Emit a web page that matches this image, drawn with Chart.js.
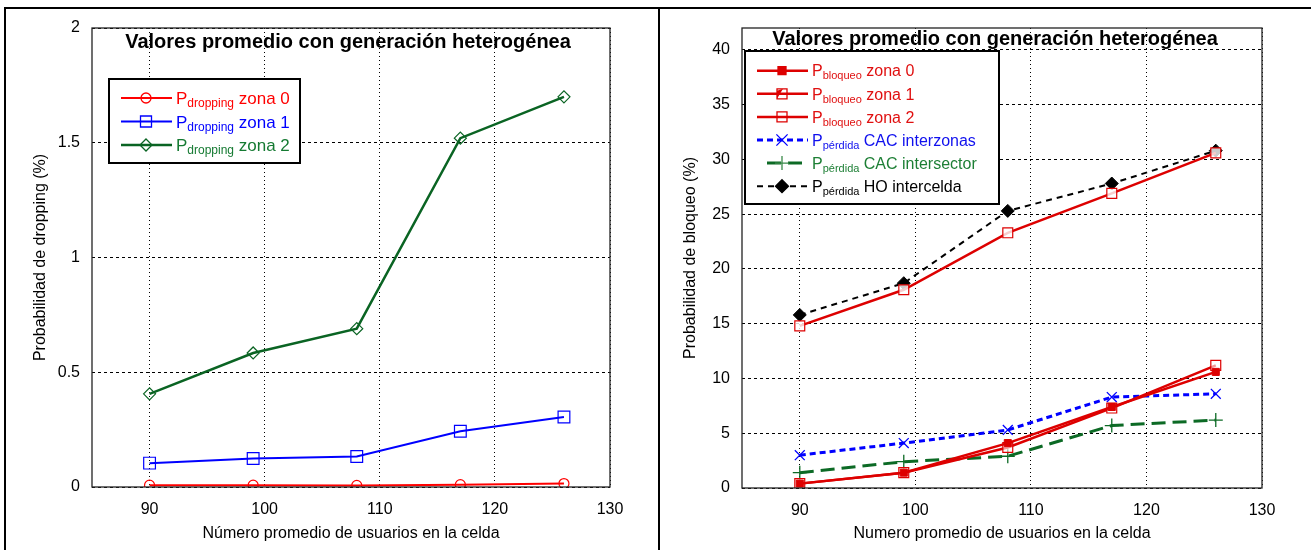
<!DOCTYPE html>
<html><head><meta charset="utf-8">
<script src="https://cdn.jsdelivr.net/npm/chart.js@4.4.0/dist/chart.umd.min.js"></script>
<style>
html,body{margin:0;padding:0;background:#fff;}
#wrap{position:relative;width:1311px;height:550px;overflow:hidden;background:#fff;}
#c1{position:absolute;left:0;top:0;}
#c2{position:absolute;left:660px;top:0;}
.fr{position:absolute;background:#000;}
</style></head><body>
<div id="wrap">
<canvas id="c1" width="660" height="550"></canvas>
<canvas id="c2" width="651" height="550"></canvas>
<div class="fr" style="left:4px;top:7px;width:1307px;height:2px"></div>
<div class="fr" style="left:4px;top:7px;width:2px;height:543px"></div>
<div class="fr" style="left:658px;top:7px;width:2px;height:543px"></div>
</div>
<script>
// ---- data ----
const usuarios = [90, 99, 108, 117, 126];
const dropZona0 = [0.008, 0.008, 0.007, 0.010, 0.015];
const dropZona1 = [0.104, 0.124, 0.133, 0.243, 0.305];
const dropZona2 = [0.406, 0.584, 0.690, 1.520, 1.700];
const bloqZona0 = [0.4, 1.4, 4.1, 7.4, 10.6];
const bloqZona1 = [0.4, 1.4, 3.7, 7.3, 11.2];
const bloqZona2 = [14.8, 18.1, 23.3, 26.9, 30.6];
const perdInterzonas = [3.0, 4.1, 5.3, 8.3, 8.6];
const perdIntersector = [1.4, 2.4, 2.9, 5.7, 6.2];
const perdHO = [15.8, 18.7, 25.3, 27.8, 30.8];
const xTicks = [90, 100, 110, 120, 130];
const yTicksDrop = [0, 0.5, 1, 1.5, 2];
const yTicksBloq = [0, 5, 10, 15, 20, 25, 30, 35, 40];
const titulo = 'Valores promedio con generación heterogénea';

const FONT = '"Liberation Sans", Arial, Helvetica, sans-serif';
const pts = arr => arr.map((v, i) => ({x: usuarios[i], y: v}));

function drawMarker(ctx, type, x, y, r, color, fill) {
  ctx.save();
  ctx.setLineDash([]);
  ctx.strokeStyle = color; ctx.fillStyle = color; ctx.lineWidth = 1.3;
  ctx.beginPath();
  if (type === 'circle') { ctx.arc(x, y, r, 0, Math.PI * 2); }
  else if (type === 'square') { ctx.rect(x - r, y - r, 2 * r, 2 * r); }
  else if (type === 'diamond') { ctx.moveTo(x, y - r); ctx.lineTo(x + r, y); ctx.lineTo(x, y + r); ctx.lineTo(x - r, y); ctx.closePath(); }
  else if (type === 'cross') { ctx.moveTo(x - r, y); ctx.lineTo(x + r, y); ctx.moveTo(x, y - r); ctx.lineTo(x, y + r); }
  else if (type === 'x') { const d = r * 0.8; ctx.moveTo(x - d, y - d); ctx.lineTo(x + d, y + d); ctx.moveTo(x + d, y - d); ctx.lineTo(x - d, y + d); }
  if (fill) ctx.fill();
  ctx.stroke();
  ctx.restore();
}

function decoPlugin(cfg) {
  return {
    id: 'deco',
    afterDraw(chart) {
      const ctx = chart.ctx, a = chart.chartArea;
      ctx.save();
      ctx.setLineDash([]);
      ctx.strokeStyle = '#222'; ctx.lineWidth = 1.3;
      ctx.strokeRect(a.left, a.top, a.right - a.left, a.bottom - a.top);
      // title
      ctx.font = 'bold 20px ' + FONT;
      ctx.fillStyle = '#000'; ctx.textAlign = 'center'; ctx.textBaseline = 'middle';
      ctx.fillText(titulo, (a.left + a.right) / 2 + cfg.titleDx, cfg.titleY);
      // legend
      const L = cfg.legend;
      ctx.fillStyle = '#fff'; ctx.fillRect(L.x, L.y, L.w, L.h);
      ctx.lineWidth = 2; ctx.strokeStyle = '#000'; ctx.strokeRect(L.x, L.y, L.w, L.h);
      L.items.forEach((it, i) => {
        const y = L.y0 + i * L.dy;
        ctx.setLineDash(it.dash || []);
        ctx.strokeStyle = it.color; ctx.lineWidth = it.width;
        ctx.beginPath(); ctx.moveTo(L.lx0 + (it.off || 0), y); ctx.lineTo(L.lx1, y); ctx.stroke();
        ctx.setLineDash([]);
        drawMarker(ctx, it.marker, L.mx, y, it.size, it.mcolor || it.color, it.fill);
        if (it.tri) {
          ctx.fillStyle = it.color; ctx.beginPath();
          ctx.moveTo(L.mx - it.size, y + it.size); ctx.lineTo(L.mx - it.size, y - it.size + 2); ctx.lineTo(L.mx + 1, y - it.size); ctx.closePath(); ctx.fill();
        }
        ctx.textAlign = 'left'; ctx.textBaseline = 'alphabetic'; ctx.fillStyle = it.text;
        let x = L.tx;
        const base = y + L.main * 0.36;
        ctx.font = L.main + 'px ' + FONT;
        ctx.fillText('P', x, base); x += ctx.measureText('P').width;
        ctx.font = L.sub + 'px ' + FONT;
        ctx.fillText(it.sub, x, base + L.subDy); x += ctx.measureText(it.sub).width;
        ctx.font = L.main + 'px ' + FONT;
        ctx.fillText(' ' + it.rest, x, base);
      });
      ctx.restore();
    }
  };
}

function scales(yMax, yTicks, yTitle, yWidth, xHeight) {
  return {
    x: {
      type: 'linear', min: 85, max: 130,
      afterBuildTicks: s => { s.ticks = xTicks.map(v => ({value: v})); },
      afterFit: s => { s.height = xHeight; },
      grid: {color: '#000', lineWidth: 1, drawTicks: false},
      border: {display: false, dash: [1, 3]},
      ticks: {color: '#000', font: {family: FONT, size: 16}, padding: 13, callback: v => String(v), maxRotation: 0},
      title: {display: true, text: yTitle[1], color: '#000', font: {family: FONT, size: 16}, padding: {top: 0, bottom: 7}}
    },
    y: {
      type: 'linear', min: 0, max: yMax,
      afterBuildTicks: s => { s.ticks = yTicks.map(v => ({value: v})); },
      afterFit: s => { s.width = yWidth; },
      grid: {color: '#000', lineWidth: 1, drawTicks: false},
      border: {display: false, dash: [3, 3]},
      ticks: {color: '#000', font: {family: FONT, size: 16}, padding: 12, callback: v => String(v)},
      title: {display: true, text: yTitle[0], color: '#000', font: {family: FONT, size: 16}, padding: {top: yTitle[2], bottom: 0}}
    }
  };
}

const RED = '#ff0000', BLUE = '#0000ff', GREEN = '#0a6423', GREENT = '#157a32';

new Chart(document.getElementById('c1'), {
  type: 'line',
  data: {datasets: [
    {data: pts(dropZona0), borderColor: RED, borderWidth: 2, pointStyle: 'circle', pointRadius: 5, pointBorderWidth: 1.2, pointBackgroundColor: 'rgba(0,0,0,0)', pointBorderColor: RED},
    {data: pts(dropZona1), borderColor: BLUE, borderWidth: 2, pointStyle: 'rect', pointRadius: 8.3, pointBorderWidth: 1.2, pointBackgroundColor: 'rgba(0,0,0,0)', pointBorderColor: BLUE},
    {data: pts(dropZona2), borderColor: GREEN, borderWidth: 2.5, pointStyle: 'rectRot', pointRadius: 6, pointBorderWidth: 1.2, pointBackgroundColor: 'rgba(0,0,0,0)', pointBorderColor: GREEN}
  ]},
  options: {
    responsive: false, animation: false,
    layout: {padding: {left: 0, right: 50, top: 28, bottom: 0}},
    plugins: {legend: {display: false}, tooltip: {enabled: false}},
    elements: {line: {tension: 0}},
    scales: scales(2, yTicksDrop, ['Probabilidad de dropping (%)', 'Número promedio de usuarios en la celda', 31], 92, 63)
  },
  plugins: [decoPlugin({titleDx: -3, titleY: 42, legend: {
    x: 109, y: 79, w: 191, h: 84, y0: 98, dy: 23.5, lx0: 121, lx1: 172, mx: 146, tx: 176, main: 17, sub: 12, subDy: 3,
    items: [
      {color: RED, text: RED, width: 2, marker: 'circle', size: 5, sub: 'dropping', rest: 'zona 0'},
      {color: BLUE, text: BLUE, width: 2, marker: 'square', size: 5.5, sub: 'dropping', rest: 'zona 1'},
      {color: GREEN, text: GREENT, width: 2.5, marker: 'diamond', size: 6, sub: 'dropping', rest: 'zona 2'}
    ]}})]
});

const RED2 = '#dd0000', REDT = '#e01010', BLUE2 = '#0000ff', BLUET = '#1010ee', GREEN2 = '#0c6a25', GREENT2 = '#1d7f35';

new Chart(document.getElementById('c2'), {
  type: 'line',
  data: {datasets: [
    {data: pts(bloqZona0), borderColor: RED2, borderWidth: 2.5, pointStyle: 'rect', pointRadius: 5, pointBorderWidth: 1, pointBackgroundColor: RED2, pointBorderColor: RED2},
    {data: pts(bloqZona1), borderColor: RED2, borderWidth: 2.5, pointStyle: 'rect', pointRadius: 7, pointBorderWidth: 1.2, pointBackgroundColor: 'rgba(255,255,255,0.6)', pointBorderColor: RED2},
    {data: pts(bloqZona2), borderColor: RED2, borderWidth: 2.5, pointStyle: 'rect', pointRadius: 7, pointBorderWidth: 1.2, pointBackgroundColor: 'rgba(255,255,255,0.8)', pointBorderColor: RED2},
    {data: pts(perdInterzonas), borderColor: BLUE2, borderWidth: 3, borderDash: [6, 4], pointStyle: 'crossRot', pointRadius: 7, pointBorderWidth: 1.3, pointBorderColor: BLUE2},
    {data: pts(perdIntersector), borderColor: GREEN2, borderWidth: 3, borderDash: [14, 7], pointStyle: 'cross', pointRadius: 7, pointBorderWidth: 1.3, pointBorderColor: GREEN2},
    {data: pts(perdHO), borderColor: '#000', borderWidth: 2, borderDash: [6, 5], pointStyle: 'rectRot', pointRadius: 6.5, pointBorderWidth: 1, pointBackgroundColor: '#000', pointBorderColor: '#000'}
  ]},
  options: {
    responsive: false, animation: false,
    layout: {padding: {left: 0, right: 49, top: 28, bottom: 0}},
    plugins: {legend: {display: false}, tooltip: {enabled: false}},
    elements: {line: {tension: 0}},
    scales: scales(42, yTicksBloq, ['Probabilidad de bloqueo (%)', 'Numero promedio de usuarios en la celda', 21], 82, 62)
  },
  plugins: [decoPlugin({titleDx: -7, titleY: 39, legend: {
    x: 85, y: 51, w: 254, h: 153, y0: 70.7, dy: 23.1, lx0: 97, lx1: 148, mx: 122, tx: 152, main: 16, sub: 11, subDy: 3,
    items: [
      {color: RED2, text: REDT, width: 2.5, marker: 'square', size: 4, fill: true, sub: 'bloqueo', rest: 'zona 0'},
      {color: RED2, text: REDT, width: 2.5, marker: 'square', size: 5, tri: true, sub: 'bloqueo', rest: 'zona 1'},
      {color: RED2, text: REDT, width: 2.5, marker: 'square', size: 5, sub: 'bloqueo', rest: 'zona 2'},
      {color: BLUE2, text: BLUET, width: 3, dash: [6, 4], marker: 'x', size: 7, sub: 'pérdida', rest: 'CAC interzonas'},
      {color: GREEN2, text: GREENT2, width: 3, dash: [14, 7], off: 10, marker: 'cross', size: 7, mcolor: '#3a8a4a', sub: 'pérdida', rest: 'CAC intersector'},
      {color: '#000', text: '#000', width: 2, dash: [6, 5], marker: 'diamond', size: 6.5, fill: true, sub: 'pérdida', rest: 'HO intercelda'}
    ]}})]
});
</script>
</body></html>
